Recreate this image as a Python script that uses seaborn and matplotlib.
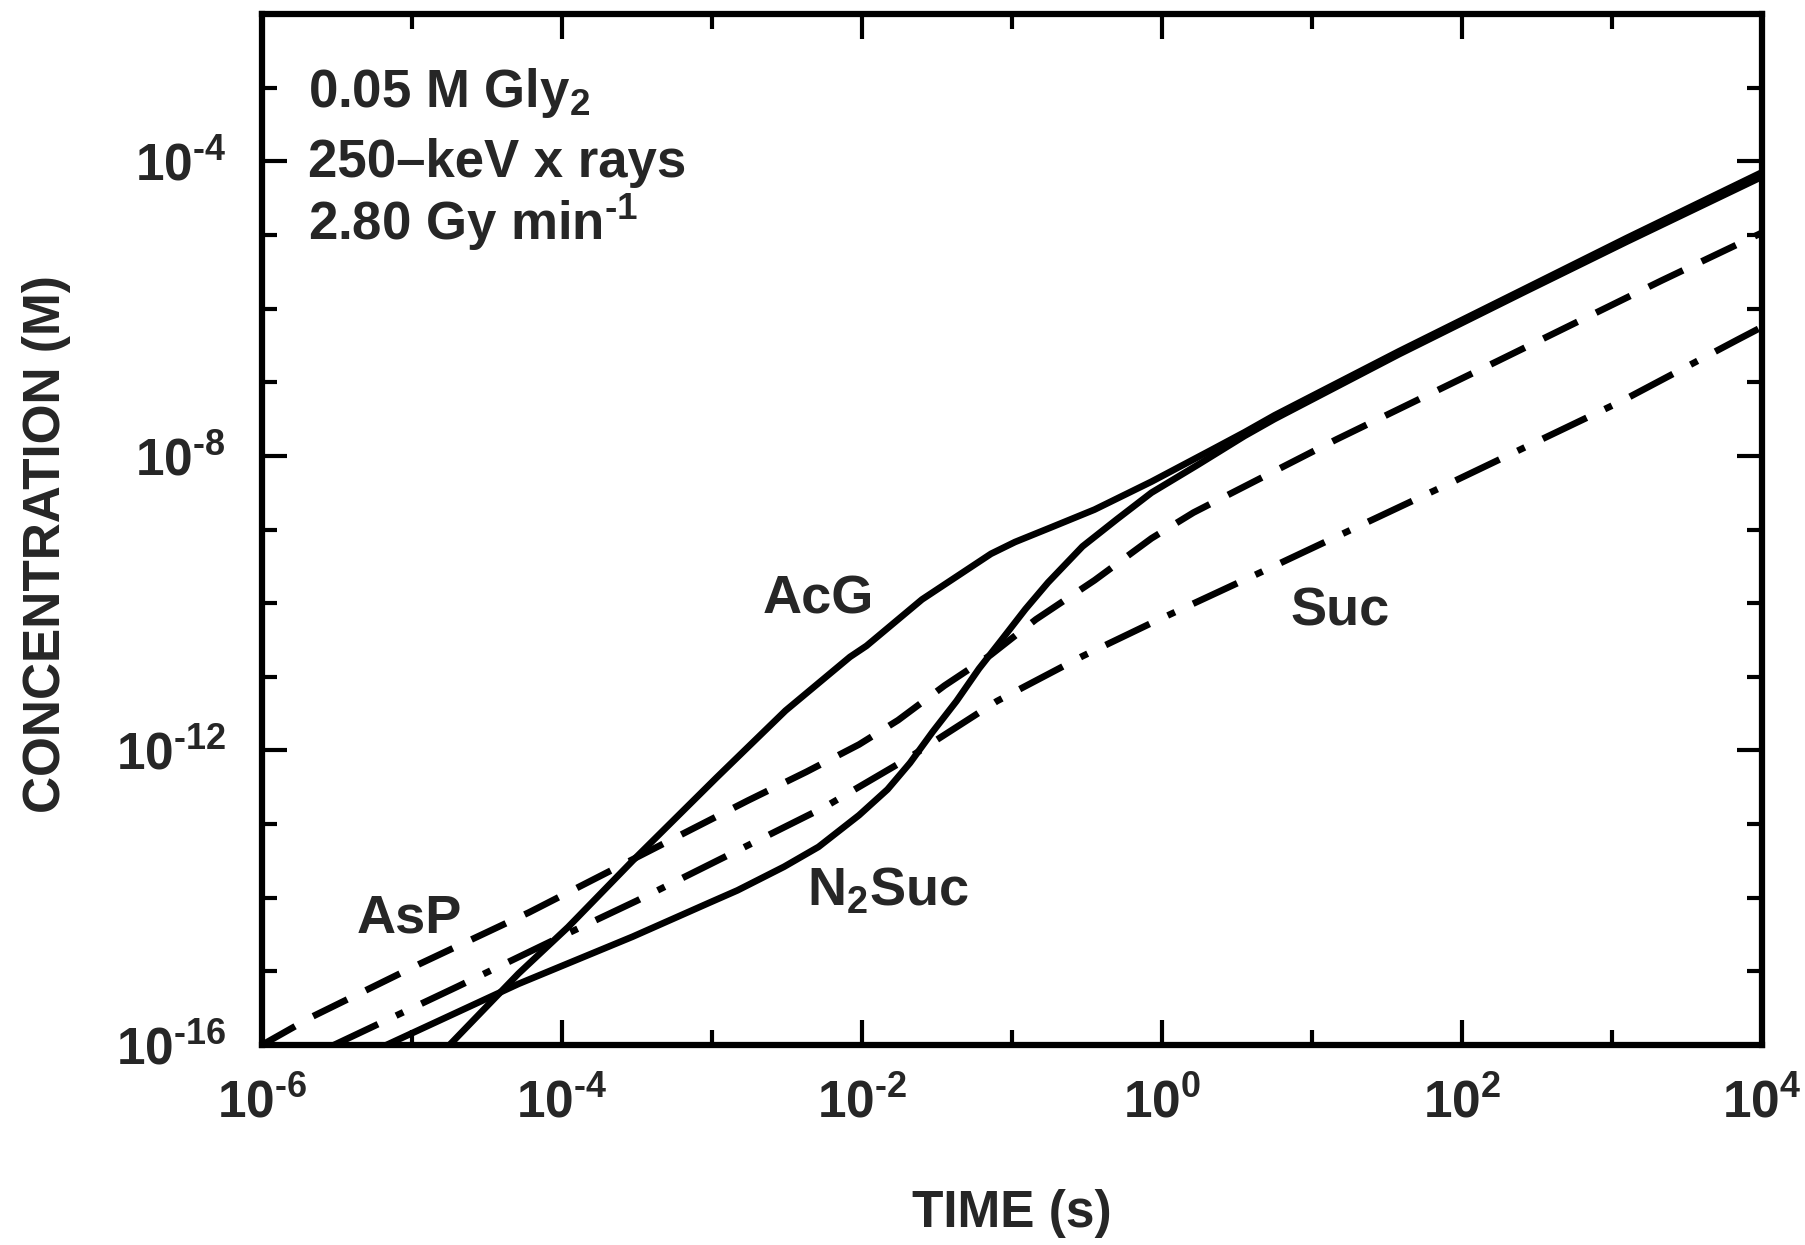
import numpy as np
import pandas as pd
import matplotlib
matplotlib.use('Agg')
import matplotlib.pyplot as plt
import seaborn as sns
from matplotlib.ticker import FixedLocator, FuncFormatter, NullFormatter

# values, as log10(time / s) and log10(concentration / M)
acg_logt = [-4.75, -4.29, -3.96, -3.53, -2.97, -2.51, -2.08, -1.97, -1.60, -1.37, -1.14,
            -0.98, -0.75, -0.45, -0.07, 0.32, 0.55, 0.75, 1.58, 2.41, 3.10, 4.0]
acg_logc = [-16.0, -15.03, -14.40, -13.50, -12.37, -11.46, -10.73, -10.58, -9.95, -9.64, -9.33,
            -9.17, -8.98, -8.73, -8.35, -7.93, -7.68, -7.45, -6.58, -5.74, -5.04, -4.15]

n2suc_logt = [-5.17, -4.29, -3.53, -3.02, -2.83, -2.52, -2.29, -2.02, -1.83, -1.68, -1.53,
              -1.37, -1.22, -1.07, -0.91, -0.76, -0.53, -0.30, -0.07, 0.24, 0.55, 0.75,
              1.58, 2.41, 3.10, 4.0]
n2suc_logc = [-16.0, -15.17, -14.53, -14.07, -13.90, -13.58, -13.31, -12.88, -12.53, -12.17, -11.75,
              -11.33, -10.89, -10.50, -10.08, -9.72, -9.23, -8.86, -8.50, -8.12, -7.73, -7.50,
              -6.62, -5.78, -5.09, -4.21]

asp_logt = [-6.0, -5.67, -4.95, -4.22, -3.50, -2.76, -2.37, -2.02, -1.76, -1.45, -1.14,
            -0.84, -0.45, -0.07, 0.21, 1.16, 2.24, 3.33, 4.0]
asp_logc = [-16.0, -15.62, -14.90, -14.20, -13.45, -12.68, -12.29, -11.92, -11.59, -11.12, -10.70,
            -10.22, -9.69, -9.12, -8.77, -7.78, -6.71, -5.62, -4.97]

suc_logt = [-5.52, -4.70, -4.06, -3.50, -2.85, -2.25, -1.68, -1.10, -0.53, -0.07, 0.67,
            1.88, 3.07, 3.84, 4.0]
suc_logc = [-16.0, -15.21, -14.58, -14.04, -13.38, -12.77, -12.09, -11.33, -10.72, -10.27, -9.57,
            -8.41, -7.25, -6.42, -6.25]

x_major = [-6, -4, -2, 0, 2, 4]
x_minor = [-5, -3, -1, 1, 3]
y_major = [-16, -12, -8, -4]
y_minor = [-15, -14, -13, -11, -10, -9, -7, -6, -5, -3]

HY = '\u2010'  # short hyphen, as in the original exponents

frames = []
for name, lt, lc in [('AcG', acg_logt, acg_logc), ('N2Suc', n2suc_logt, n2suc_logc),
                     ('AsP', asp_logt, asp_logc), ('Suc', suc_logt, suc_logc)]:
    frames.append(pd.DataFrame({'time': 10.0 ** np.array(lt), 'conc': 10.0 ** np.array(lc),
                                'species': name}))
df = pd.concat(frames, ignore_index=True)

sns.set_style('ticks')
plt.rcParams['font.family'] = ['Liberation Sans', 'DejaVu Sans']
plt.rcParams['font.weight'] = 'bold'
plt.rcParams['mathtext.fontset'] = 'custom'
plt.rcParams['mathtext.rm'] = 'Liberation Sans:bold'
plt.rcParams['mathtext.it'] = 'Liberation Sans:bold'
plt.rcParams['mathtext.bf'] = 'Liberation Sans:bold'

fig = plt.figure(figsize=(18.06, 12.45), dpi=100)
ax = fig.add_axes([262 / 1806, 200 / 1245, 1500 / 1806, 1031 / 1245])
ax.set_xscale('log')
ax.set_yscale('log')

sns.lineplot(data=df, x='time', y='conc', hue='species', style='species',
             palette={'AcG': 'black', 'N2Suc': 'black', 'AsP': 'black', 'Suc': 'black'},
             dashes={'AcG': '', 'N2Suc': '', 'AsP': (5.7, 3.1), 'Suc': (7.3, 3.0, 1.2, 3.0)},
             linewidth=4.8, estimator=None, legend=False, ax=ax)

ax.set_xlim(1e-6, 1e4)
ax.set_ylim(1e-16, 1e-2)


def pow_label(v, pos):
    e = int(round(np.log10(v)))
    ex = (HY + str(-e)) if e < 0 else str(e)
    return r'$\mathdefault{10^{' + ex + '}}$'


fmt = FuncFormatter(pow_label)
ax.xaxis.set_major_locator(FixedLocator([10.0 ** e for e in x_major]))
ax.xaxis.set_minor_locator(FixedLocator([10.0 ** e for e in x_minor]))
ax.yaxis.set_major_locator(FixedLocator([10.0 ** e for e in y_major]))
ax.yaxis.set_minor_locator(FixedLocator([10.0 ** e for e in y_minor]))
ax.xaxis.set_major_formatter(fmt)
ax.yaxis.set_major_formatter(fmt)
ax.xaxis.set_minor_formatter(NullFormatter())
ax.yaxis.set_minor_formatter(NullFormatter())

ax.tick_params(which='both', direction='in', top=True, right=True, width=3, color='black')
ax.tick_params(which='major', length=18)
ax.tick_params(which='minor', length=11)
ax.tick_params(axis='x', which='major', labelsize=37, pad=24)
ax.tick_params(axis='y', which='major', labelsize=37, pad=26)

for s in ax.spines.values():
    s.set_linewidth(4.5)
    s.set_color('black')

ax.set_xlabel('TIME (s)', fontsize=37, fontweight='bold')
ax.xaxis.set_label_coords(0.5, -0.14)
ax.set_ylabel('CONCENTRATION (M)', fontsize=37, fontweight='bold')
ax.yaxis.set_label_coords(-0.127, 0.486)

# conditions
tkw = dict(transform=ax.transAxes, fontsize=38, fontweight='bold', ha='left', va='baseline')
ax.text(0.031, 0.910, r'0.05 M Gly$_{\mathdefault{2}}$', **tkw)
ax.text(0.031, 0.842, '250\u2013keV x rays', **tkw)
ax.text(0.031, 0.781, r'2.80 Gy min$^{\mathdefault{' + HY + '1}}$', **tkw)

# curve labels
lkw = dict(transform=ax.transAxes, fontsize=39, fontweight='bold', ha='center', va='baseline')
ax.text(0.371, 0.419, 'AcG', **lkw)
ax.text(0.719, 0.407, 'Suc', **lkw)
ax.text(0.098, 0.109, 'AsP', **lkw)
ax.text(0.417, 0.135, r'N$_{\mathdefault{2}}$Suc', **lkw)

fig.savefig('out.png', dpi=100)
